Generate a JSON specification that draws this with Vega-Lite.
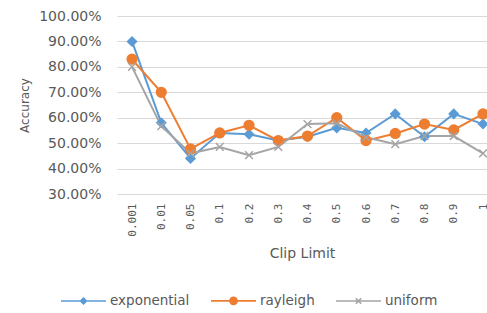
{
  "$schema": "https://vega.github.io/schema/vega-lite/v6.json",
  "width": 370,
  "height": 178,
  "autosize": {"type": "none"},
  "padding": {"left": 117, "top": 16, "right": 0, "bottom": 119},
  "background": "white",
  "config": {
    "view": {"stroke": null},
    "font": "DejaVu Sans",
    "axis": {"labelFont": "DejaVu Sans", "titleFont": "DejaVu Sans", "labelColor": "#595959", "titleColor": "#595959", "titleFontWeight": "normal"}
  },
  "data": {
    "values": [
      {"clip": "0.001", "series": "exponential", "acc": 0.90},
      {"clip": "0.01", "series": "exponential", "acc": 0.58},
      {"clip": "0.05", "series": "exponential", "acc": 0.44},
      {"clip": "0.1", "series": "exponential", "acc": 0.54},
      {"clip": "0.2", "series": "exponential", "acc": 0.535},
      {"clip": "0.3", "series": "exponential", "acc": 0.51},
      {"clip": "0.4", "series": "exponential", "acc": 0.525},
      {"clip": "0.5", "series": "exponential", "acc": 0.56},
      {"clip": "0.6", "series": "exponential", "acc": 0.54},
      {"clip": "0.7", "series": "exponential", "acc": 0.615},
      {"clip": "0.8", "series": "exponential", "acc": 0.525},
      {"clip": "0.9", "series": "exponential", "acc": 0.615},
      {"clip": "1", "series": "exponential", "acc": 0.575},
      {"clip": "0.001", "series": "rayleigh", "acc": 0.83},
      {"clip": "0.01", "series": "rayleigh", "acc": 0.70},
      {"clip": "0.05", "series": "rayleigh", "acc": 0.477},
      {"clip": "0.1", "series": "rayleigh", "acc": 0.54},
      {"clip": "0.2", "series": "rayleigh", "acc": 0.57},
      {"clip": "0.3", "series": "rayleigh", "acc": 0.51},
      {"clip": "0.4", "series": "rayleigh", "acc": 0.528},
      {"clip": "0.5", "series": "rayleigh", "acc": 0.60},
      {"clip": "0.6", "series": "rayleigh", "acc": 0.51},
      {"clip": "0.7", "series": "rayleigh", "acc": 0.538},
      {"clip": "0.8", "series": "rayleigh", "acc": 0.575},
      {"clip": "0.9", "series": "rayleigh", "acc": 0.552},
      {"clip": "1", "series": "rayleigh", "acc": 0.615},
      {"clip": "0.001", "series": "uniform", "acc": 0.80},
      {"clip": "0.01", "series": "uniform", "acc": 0.567},
      {"clip": "0.05", "series": "uniform", "acc": 0.46},
      {"clip": "0.1", "series": "uniform", "acc": 0.485},
      {"clip": "0.2", "series": "uniform", "acc": 0.453},
      {"clip": "0.3", "series": "uniform", "acc": 0.485},
      {"clip": "0.4", "series": "uniform", "acc": 0.575},
      {"clip": "0.5", "series": "uniform", "acc": 0.578},
      {"clip": "0.6", "series": "uniform", "acc": 0.523},
      {"clip": "0.7", "series": "uniform", "acc": 0.496},
      {"clip": "0.8", "series": "uniform", "acc": 0.528},
      {"clip": "0.9", "series": "uniform", "acc": 0.528},
      {"clip": "1", "series": "uniform", "acc": 0.46}
    ]
  },
  "encoding": {
    "x": {
      "field": "clip", "type": "ordinal", "sort": null,
      "scale": {"type": "point", "padding": 0.325, "align": 0.79},
      "axis": {"title": "Clip Limit", "labelAngle": -90, "labelFont": "DejaVu Sans Mono", "labelFontSize": 11, "labelPadding": 9, "ticks": false, "domain": false, "grid": false, "titleFontSize": 14, "titlePadding": 10}
    },
    "y": {
      "field": "acc", "type": "quantitative",
      "scale": {"domain": [0.3, 1.0], "nice": false, "zero": false},
      "axis": {"title": "Accuracy", "format": ".2%", "values": [0.3, 0.4, 0.5, 0.6, 0.7, 0.8, 0.9, 1.0], "labelFontSize": 14, "labelPadding": 16, "ticks": false, "domain": false, "gridColor": "#D9D9D9", "gridWidth": 1.2, "titleFontSize": 12, "titlePadding": 7}
    }
  },
  "layer": [
    {
      "mark": {"type": "line", "strokeWidth": 2},
      "encoding": {
        "color": {
          "field": "series", "type": "nominal",
          "scale": {"domain": ["exponential", "rayleigh", "uniform"], "range": ["#5B9BD5", "#ED7D31", "#A5A5A5"]},
          "legend": {
            "title": null, "orient": "none", "direction": "horizontal",
            "legendX": -57, "legendY": 261,
            "symbolSize": 2025, "symbolStrokeWidth": 1.6,
            "labelFontSize": 13.5, "labelColor": "#595959", "labelFont": "DejaVu Sans",
            "labelOffset": 3, "columnPadding": 17, "padding": 0,
            "encode": {
              "symbols": {
                "update": {
                  "shape": {"signal": "datum.value === 'exponential' ? 'M-1,0L1,0M0,-0.13L0.13,0L0,0.13L-0.13,0Z' : datum.value === 'rayleigh' ? 'M-1,0L1,0M-0.16,0A0.16,0.16 0 1,0 0.16,0A0.16,0.16 0 1,0 -0.16,0Z' : 'M-1,0L1,0M-0.12,-0.12L0.12,0.12M-0.12,0.12L0.12,-0.12'"},
                  "fill": {"signal": "datum.value === 'exponential' ? '#5B9BD5' : datum.value === 'rayleigh' ? '#ED7D31' : 'transparent'"},
                  "stroke": {"signal": "datum.value === 'exponential' ? '#5B9BD5' : datum.value === 'rayleigh' ? '#ED7D31' : '#A5A5A5'"}
                }
              }
            }
          }
        }
      }
    },
    {
      "mark": {"type": "point", "filled": true, "strokeWidth": 1.5, "opacity": 1},
      "encoding": {
        "shape": {
          "condition": [
            {"test": "datum.series === 'exponential'", "value": "diamond"},
            {"test": "datum.series === 'rayleigh'", "value": "circle"}
          ],
          "value": "M-1,-1L1,1M-1,1L1,-1"
        },
        "size": {
          "condition": [
            {"test": "datum.series === 'exponential'", "value": 80},
            {"test": "datum.series === 'rayleigh'", "value": 95}
          ],
          "value": 60
        },
        "fill": {
          "condition": [
            {"test": "datum.series === 'exponential'", "value": "#5B9BD5"},
            {"test": "datum.series === 'rayleigh'", "value": "#ED7D31"}
          ],
          "value": "transparent"
        },
        "stroke": {
          "condition": [
            {"test": "datum.series === 'exponential'", "value": "#5B9BD5"},
            {"test": "datum.series === 'rayleigh'", "value": "#ED7D31"}
          ],
          "value": "#A5A5A5"
        }
      }
    }
  ]
}
